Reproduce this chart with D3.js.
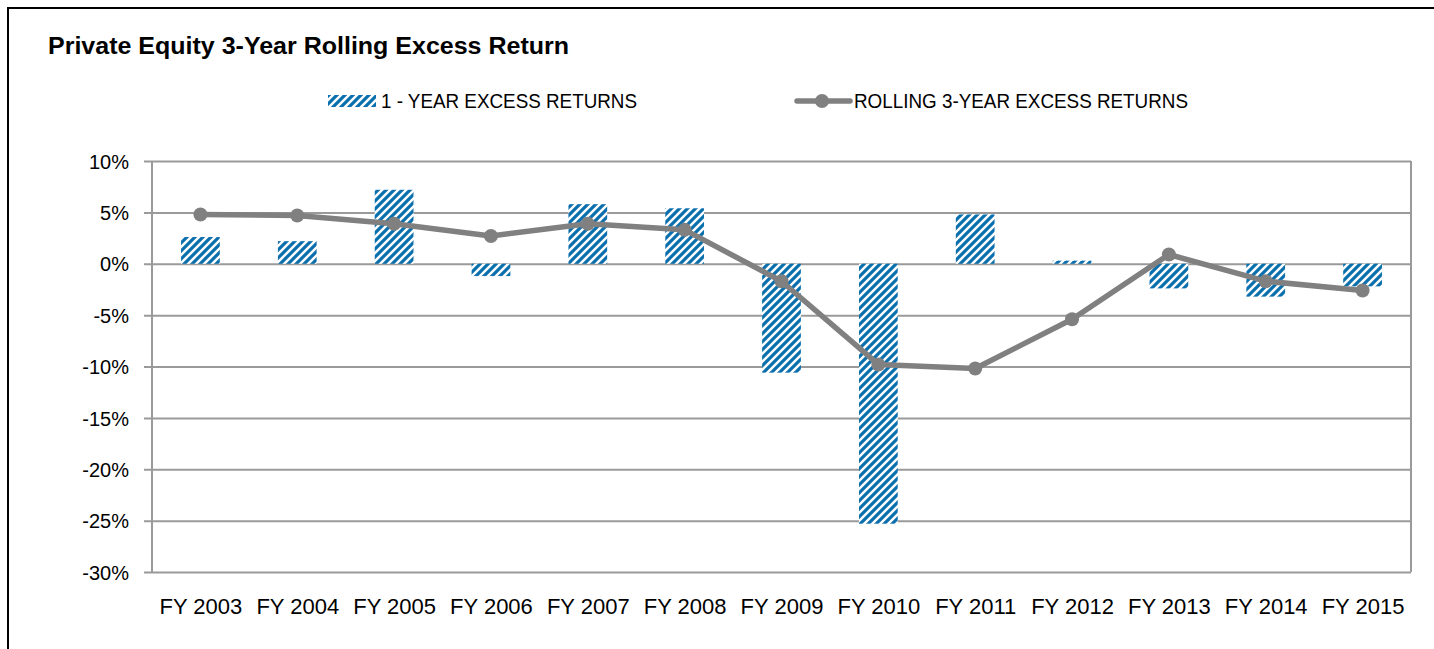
<!DOCTYPE html>
<html>
<head>
<meta charset="utf-8">
<script src="https://cdn.jsdelivr.net/npm/d3@7/dist/d3.min.js"></script>
<style>
  html, body { margin: 0; padding: 0; background: #fff; }
  svg { display: block; }
  text { font-family: "Liberation Sans", Arial, sans-serif; fill: #000; }
</style>
</head>
<body>
<svg id="chart" width="1434" height="649"></svg>
<script>
const categories = ["FY 2003","FY 2004","FY 2005","FY 2006","FY 2007","FY 2008","FY 2009","FY 2010","FY 2011","FY 2012","FY 2013","FY 2014","FY 2015"];
const oneYearExcess = [2.6, 2.2, 7.2, -1.2, 5.8, 5.4, -10.6, -25.3, 4.8, 0.3, -2.4, -3.2, -2.2];
const rollingThreeYear = [4.8, 4.7, 3.9, 2.7, 3.9, 3.3, -1.7, -9.8, -10.2, -5.4, 0.9, -1.7, -2.6];
const yTicks = [10, 5, 0, -5, -10, -15, -20, -25, -30];
const seriesNames = ["1 - YEAR EXCESS RETURNS", "ROLLING 3-YEAR EXCESS RETURNS"];
const chartTitle = "Private Equity 3-Year Rolling Excess Return";

const svg = d3.select("#chart");
const W = 1434, H = 649;
const plot = { left: 152, right: 1411, top: 161, bottom: 572 };
const barBlue = "#0B6FAE";
const lineGray = "#808080";
const gridGray = "#9a9a9a";

// outer frame
svg.append("rect").attr("x", 8).attr("y", 8).attr("width", W + 20).attr("height", H + 20)
  .attr("fill", "none").attr("stroke", "#000").attr("stroke-width", 2);

// pattern
const defs = svg.append("defs");
const pat = defs.append("pattern").attr("id", "stripes").attr("patternUnits", "userSpaceOnUse")
  .attr("width", 8).attr("height", 8);
pat.append("rect").attr("width", 8).attr("height", 8).attr("fill", "#fff");
pat.append("path").attr("d", "M-2,2 L2,-2 M0,8 L8,0 M6,10 L10,6")
  .attr("stroke", barBlue).attr("stroke-width", 3.2).attr("stroke-linecap", "square");

const x = d3.scaleBand().domain(categories).range([plot.left, plot.right])
  .paddingInner(0.6).paddingOuter(0.3);
const xc = d3.scalePoint().domain(categories).range([plot.left, plot.right]).padding(0.5);
const y = d3.scaleLinear().domain([-30, 10]).range([plot.bottom, plot.top]);

// title
svg.append("text").attr("x", 48).attr("y", 54).text(chartTitle)
  .attr("font-size", 23).attr("font-weight", "bold")
  .attr("textLength", 521).attr("lengthAdjust", "spacingAndGlyphs");

// gridlines + y axis
const yAxis = d3.axisLeft(y).tickValues(yTicks).tickSize(-(plot.right - plot.left))
  .tickFormat(d => d + "%").tickPadding(16);
const gy = svg.append("g").attr("transform", `translate(${plot.left},0)`).call(yAxis);
gy.select(".domain").remove();
gy.selectAll(".tick line").attr("stroke", gridGray).attr("stroke-width", 2)
  .attr("x1", -8);
gy.selectAll(".tick text").attr("font-size", 20).attr("font-family", "Liberation Sans, Arial, sans-serif")
  .attr("fill", "#000").attr("x", -23).attr("dy", "0.36em");

// left axis line and right border
svg.append("line").attr("x1", plot.left).attr("x2", plot.left).attr("y1", plot.top).attr("y2", plot.bottom)
  .attr("stroke", gridGray).attr("stroke-width", 2);
svg.append("line").attr("x1", plot.right).attr("x2", plot.right).attr("y1", plot.top).attr("y2", plot.bottom)
  .attr("stroke", gridGray).attr("stroke-width", 2);

// x labels
const xAxis = d3.axisBottom(xc).tickSize(0).tickPadding(0);
const gx = svg.append("g").attr("transform", `translate(0,${plot.bottom})`).call(xAxis);
gx.select(".domain").remove();
gx.selectAll(".tick text").attr("font-size", 22).attr("font-family", "Liberation Sans, Arial, sans-serif")
  .attr("fill", "#000").attr("y", 42).attr("dy", 0);

// bars
svg.append("g").selectAll("rect").data(categories).join("rect")
  .attr("x", d => x(d))
  .attr("width", x.bandwidth())
  .attr("y", (d, i) => y(Math.max(0, oneYearExcess[i])))
  .attr("height", (d, i) => Math.abs(y(oneYearExcess[i]) - y(0)))
  .attr("fill", "url(#stripes)");

// line
const line = d3.line().x((d, i) => xc(categories[i])).y(d => y(d));
svg.append("path").datum(rollingThreeYear).attr("d", line)
  .attr("fill", "none").attr("stroke", lineGray).attr("stroke-width", 5.5)
  .attr("stroke-linejoin", "round");
svg.append("g").selectAll("circle").data(rollingThreeYear).join("circle")
  .attr("cx", (d, i) => xc(categories[i])).attr("cy", d => y(d)).attr("r", 7)
  .attr("fill", lineGray);

// legend
const lg = svg.append("g");
lg.append("rect").attr("x", 328).attr("y", 95).attr("width", 48).attr("height", 12)
  .attr("fill", "url(#stripes)");
lg.append("text").attr("x", 381).attr("y", 108).text(seriesNames[0])
  .attr("font-size", 20).attr("textLength", 256).attr("lengthAdjust", "spacingAndGlyphs");
lg.append("line").attr("x1", 797).attr("x2", 850).attr("y1", 101).attr("y2", 101)
  .attr("stroke", lineGray).attr("stroke-width", 5.5).attr("stroke-linecap", "round");
lg.append("circle").attr("cx", 822).attr("cy", 101).attr("r", 7).attr("fill", lineGray);
lg.append("text").attr("x", 854).attr("y", 108).text(seriesNames[1])
  .attr("font-size", 20).attr("textLength", 334).attr("lengthAdjust", "spacingAndGlyphs");
</script>
</body>
</html>
